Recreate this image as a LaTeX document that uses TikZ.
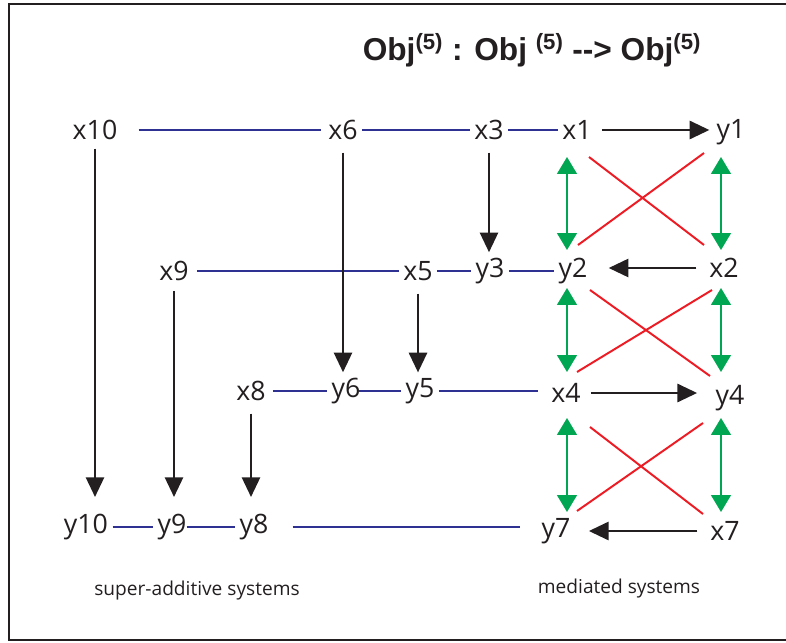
\documentclass[tikz,border=0pt]{standalone}
\usepackage{fontspec}
\setmainfont{Open Sans}
\newfontfamily\titlefont{Liberation Sans}
\usetikzlibrary{arrows.meta,calc}
\definecolor{linkblue}{RGB}{46,49,146}
\definecolor{swapgreen}{RGB}{0,166,81}
\definecolor{crossred}{RGB}{237,28,36}
\definecolor{ink}{RGB}{35,31,32}
\tikzset{
  var/.style={text=ink, font=\fontsize{19}{22}\selectfont, inner sep=3pt},
  caption/.style={text=ink, font=\fontsize{13.6}{16}\selectfont},
  link/.style={draw=linkblue, line width=1.6pt},
  arr/.style={draw=ink, line width=1.4pt, -{Triangle[length=14pt,width=13pt]}},
  swap/.style={draw=swapgreen, line width=1.4pt, {Triangle[length=12pt,width=14pt]}-{Triangle[length=12pt,width=14pt]}},
  cross/.style={draw=crossred, line width=1.4pt}
}
\begin{document}
\begin{tikzpicture}[x=0.025cm,y=-0.025cm]
    \useasboundingbox (0,0) rectangle (786,642);
    \clip (0,0) rectangle (786,642);
    % frame
    \draw[line width=2pt, ink] (800,4) -- (9,4) -- (9,640) -- (800,640);

    \node[text=ink, font=\titlefont\bfseries\fontsize{22.5}{26}\selectfont] (title) at (532,50)
        {Obj\textsuperscript{(5)} : Obj \textsuperscript{(5)} -{}-{}> Obj\textsuperscript{(5)}};

    % row 1
    \node[var] (x10) at (95,130) {x10};
    \node[var] (x6) at (343,130) {x6};
    \node[var] (x3) at (489,130) {x3};
    \node[var] (x1) at (577,130) {x1};
    \node[var] (y1) at (731,132) {y1};
    % row 2
    \node[var] (x9) at (174,271) {x9};
    \node[var] (x5) at (418,271) {x5};
    \node[var] (y3) at (490,271) {y3};
    \node[var] (y2) at (573,271) {y2};
    \node[var] (x2) at (724,268) {x2};
    % row 3
    \node[var] (x8) at (251,391) {x8};
    \node[var] (y6) at (346,391) {y6};
    \node[var] (y5) at (420,391) {y5};
    \node[var] (x4) at (566,393) {x4};
    \node[var] (y4) at (730,398) {y4};
    % row 4
    \node[var] (y10) at (86,527) {y10};
    \node[var] (y9) at (172,527) {y9};
    \node[var] (y8) at (254,527) {y8};
    \node[var] (y7) at (556,531) {y7};
    \node[var] (x7) at (725,531) {x7};

    \node[caption] (sup) at (197,591) {super-additive systems};
    \node[caption] (med) at (619,589) {mediated systems};

    % blue links
    \draw[link, shorten <=12pt, shorten >=2pt] (x10) -- (x6);
    \draw[link] (x6) -- (x3);
    \draw[link] (x3) -- (x1);
    \draw[link, shorten <=3pt] (x9) -- (x5);
    \draw[link] (x5) -- (y3);
    \draw[link] (y3) -- (y2);
    \draw[link, shorten <=2pt] (x8) -- (y6);
    \draw[link, shorten <=-4pt] (y6) -- (y5);
    \draw[link, shorten >=6pt] (y5) -- (y5 -| x4.west);
    \draw[link] (y10) -- (y9);
    \draw[link, shorten <=-3pt] (y9) -- (y8);
    \draw[link, shorten <=14pt, shorten >=12pt] (y8) -- (y8 -| y7.west);

    % black arrows
    \draw[arr, shorten <=3pt, shorten >=9pt] (x10) -- (x10 |- y10.north);
    \draw[arr, shorten <=6pt, shorten >=1pt] (x6) -- (x6 |- y6.north);
    \draw[arr, shorten <=6pt, shorten >=1pt] (x3) -- (x3 |- y3.north);
    \draw[arr, shorten <=4pt, shorten >=9pt] (x9) -- (x9 |- y9.north);
    \draw[arr, shorten <=6pt, shorten >=1pt] (x5) -- (x5 |- y5.north);
    \draw[arr, shorten <=6pt, shorten >=9pt] (x8) -- (x8 |- y8.north);
    \draw[arr, shorten <=4pt, shorten >=2pt] (x1) -- (x1 -| y1.west);
    \draw[arr, shorten <=6pt, shorten >=12pt] (x2) -- (x2 -| y2.east);
    \draw[arr, shorten <=4pt, shorten >=10pt] (x4) -- (x4 -| y4.west);
    \draw[arr, shorten <=6pt, shorten >=10pt] (x7) -- (x7 -| y7.east);

    % green swaps
    \coordinate (gl) at (567,0);
    \coordinate (gr) at (721,0);
    \draw[swap] ($(gl |- x1)+(0,27)$) -- ($(gl |- y2)+(0,-21)$);
    \draw[swap] ($(gl |- y2)+(0,17)$) -- ($(gl |- x4)+(0,-21)$);
    \draw[swap] ($(gl |- x4)+(0,25)$) -- ($(gl |- y7)+(0,-19)$);
    \draw[swap] ($(gr |- y1)+(0,25)$) -- ($(gr |- x2)+(0,-18)$);
    \draw[swap] ($(gr |- x2)+(0,20)$) -- ($(gr |- y4)+(0,-26)$);
    \draw[swap] ($(gr |- y4)+(0,20)$) -- ($(gr |- x7)+(0,-19)$);

    % red crosses
    \draw[cross] ($(x1)+(12,27)$) -- ($(x2)+(-20,-23)$);
    \draw[cross] ($(y2)+(5,-26)$) -- ($(y1)+(-27,21)$);
    \draw[cross] ($(y2)+(17,19)$) -- ($(y4)+(-20,-22)$);
    \draw[cross] ($(x4)+(11,-21)$) -- ($(x2)+(-12,22)$);
    \draw[cross] ($(x4)+(24,34)$) -- ($(x7)+(-22,-17)$);
    \draw[cross] ($(y7)+(21,-20)$) -- ($(y4)+(-27,25)$);
\end{tikzpicture}
\end{document}
